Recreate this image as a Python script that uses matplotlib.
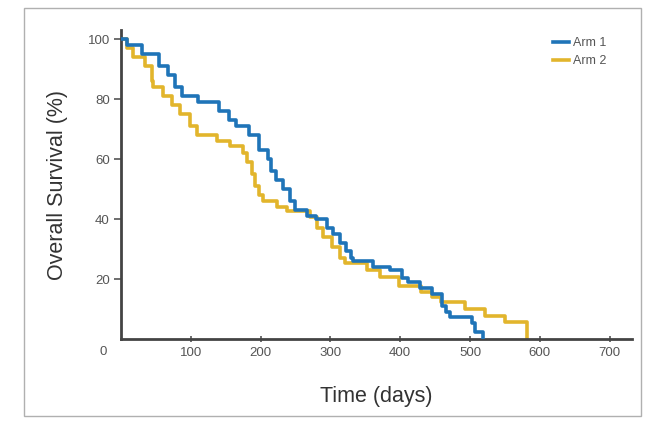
import matplotlib
matplotlib.use("Agg")
import matplotlib.pyplot as plt
from matplotlib.patches import Rectangle

plt.rcParams['font.family'] = ['Liberation Sans Narrow', 'Liberation Sans', 'DejaVu Sans']

# Kaplan-Meier step data (time in days, survival %)
arm1_t = [0, 8, 30, 55, 68, 78, 88, 110, 140, 155, 165, 183, 197, 210, 215, 222, 232, 242, 249,
          266, 280, 295, 304, 314, 322, 329, 333, 361, 385, 402, 411, 428, 446, 460, 465, 471,
          503, 507, 519]
arm1_s = [100, 98, 95, 91, 88, 84, 81, 79, 76, 73, 71, 68, 63, 60, 56, 53, 50, 46, 43,
          41, 40, 37, 35, 32, 29.5, 27, 26, 24, 23, 20.5, 19, 17, 15, 11, 9, 7.5,
          5.5, 2.5, 0]

arm2_t = [0, 9, 17, 34, 44, 46, 60, 73, 85, 99, 109, 138, 156, 175, 181, 188, 192, 198, 203,
          223, 238, 271, 281, 289, 302, 314, 321, 352, 371, 398, 430, 445, 459, 493, 521,
          550, 582]
arm2_s = [100, 97, 94, 91, 86, 84, 81, 78, 75, 71, 68, 66, 64.5, 62, 59, 55, 51, 48, 46,
          44, 42.7, 40.7, 37, 34, 30.7, 27, 25.3, 23, 20.7, 17.7, 15.6, 14, 12.3, 10, 7.7,
          5.6, 0]

series_labels = ["Arm 1", "Arm 2"]
x_ticks = [100, 200, 300, 400, 500, 600, 700]
y_ticks = [20, 40, 60, 80, 100]

W, H = 649, 425
fig = plt.figure(figsize=(W / 100, H / 100), dpi=100)
fig.patch.set_facecolor('white')

# outer frame
fig.patches.append(Rectangle((24 / W, 1 - 416 / H), (641 - 24) / W, (416 - 8) / H,
                             transform=fig.transFigure, fill=False,
                             edgecolor='#b0b0b0', linewidth=1.0))

ax = fig.add_axes([121 / W, 1 - 339 / H, (632 - 121) / W, (339 - 30) / H])
ax.set_xlim(0, 732)
ax.set_ylim(0, 103)

ax.step(arm1_t, arm1_s, where='post', color='#1f74b8', lw=2.6, label=series_labels[0], zorder=3)
ax.step(arm2_t, arm2_s, where='post', color='#e2b52c', lw=2.6, label=series_labels[1], zorder=2)

for s in ['top', 'right']:
    ax.spines[s].set_visible(False)
for s in ['left', 'bottom']:
    ax.spines[s].set_color('#444444')
    ax.spines[s].set_linewidth(2.0)

ax.set_xticks(x_ticks)
ax.set_yticks(y_ticks)
ax.tick_params(axis='both', colors='#555555', labelsize=9.5, width=1.2, length=5)
ax.tick_params(axis='x', direction='inout', pad=3)
ax.tick_params(axis='y', direction='out', pad=3)
ax.text(-25, -4.2, "0", color='#555555', fontsize=9.5, ha='center', va='center', clip_on=False)

ax.set_xlabel("Time (days)", fontsize=15.5, color='#333333', labelpad=20)
ax.set_ylabel("Overall Survival (%)", fontsize=15.5, color='#333333', labelpad=14)

leg = ax.legend(loc='upper right', bbox_to_anchor=(0.965, 1.0), frameon=False, fontsize=9,
                handlelength=1.3, handletextpad=0.3, labelspacing=0.45, borderaxespad=0.2)
for t in leg.get_texts():
    t.set_color('#555555')

fig.savefig("out.png", dpi=100)
